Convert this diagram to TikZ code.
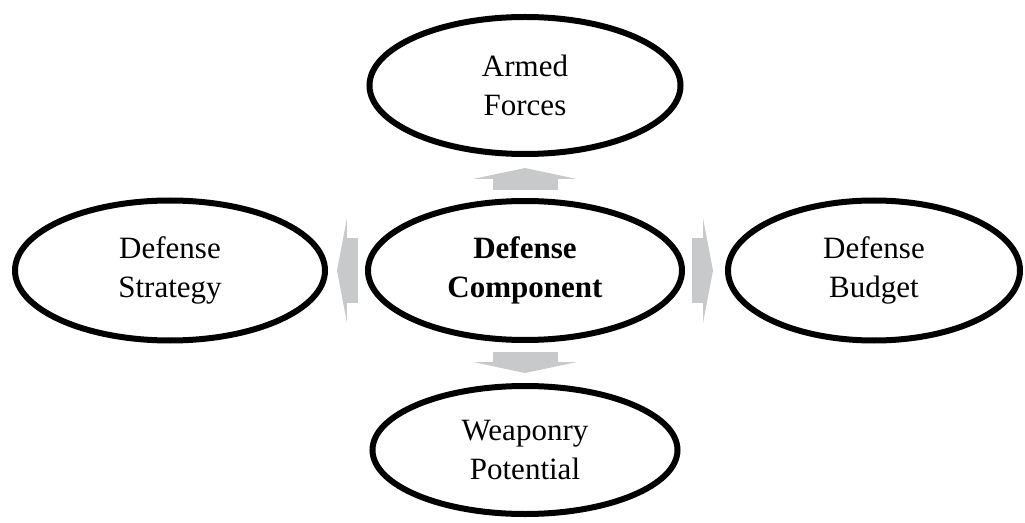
\documentclass[tikz,border=0pt]{standalone}
\usepackage{fontspec}
\setmainfont{Liberation Serif}
\usepackage{tikz}
\usetikzlibrary{shapes,arrows.meta,positioning}
\definecolor{arrowgray}{RGB}{200,201,203}
\tikzstyle{oval} = [draw, ellipse, line width=6pt, inner sep=0pt,
    align=center, font=\fontsize{31}{39}\selectfont]
\tikzstyle{flow} = [draw=arrowgray, line width=65pt,
    -{Triangle[length=11pt,width=104pt,line width=0pt]}]
\tikzstyle{flowside} = [draw=arrowgray, line width=64pt,
    -{Triangle[length=10pt,width=105pt,line width=0pt]}]

\begin{document}
\begin{tikzpicture}[node distance = 40pt]
  \useasboundingbox (-525pt,-251.5pt) rectangle (500pt,270.5pt);
  \node [oval, minimum width=314pt, minimum height=139pt] (dc)
  {\textbf{Defense}\\\textbf{Component}};
  \node [oval, minimum width=311pt, minimum height=137pt, above=41pt of dc] (af)
  {Armed\\Forces};
  \node [oval, minimum width=310pt, minimum height=140pt, left=37pt of dc] (ds)
  {Defense\\Strategy};
  \node [oval, minimum width=292pt, minimum height=140pt, right=40pt of dc] (db)
  {Defense\\Budget};
  \node [oval, minimum width=305pt, minimum height=128pt, below=40pt of dc] (wp)
  {Weaponry\\Potential};
  \draw [flow, shorten <=8pt, shorten >=11pt] (dc) -- (af);
  \draw [flow, shorten <=9pt, shorten >=10pt] (dc) -- (wp);
  \draw [flowside, shorten <=7pt, shorten >=9pt] (dc) -- (ds);
  \draw [flowside, shorten <=7pt, shorten >=12pt] (dc) -- (db);
\end{tikzpicture}
\end{document}
